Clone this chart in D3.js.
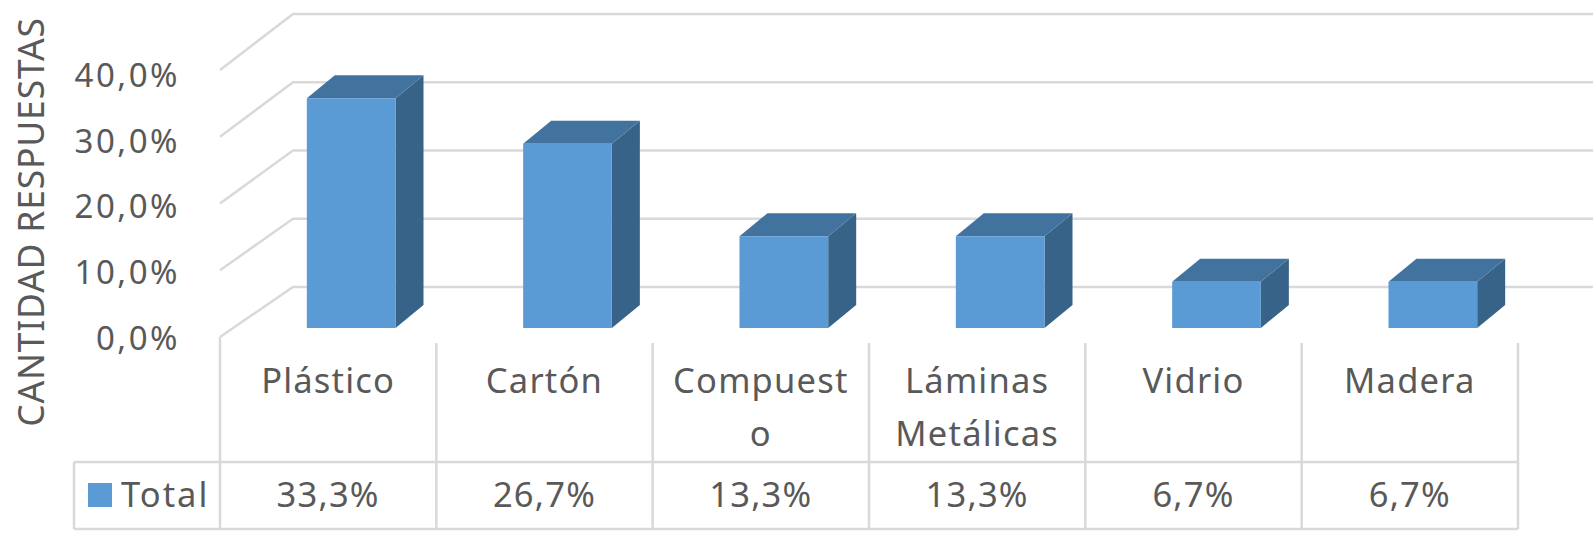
<!DOCTYPE html>
<html><head><meta charset="utf-8">
<script src="https://cdn.jsdelivr.net/npm/d3@7"></script>
<style>body{margin:0;background:#fff}svg{display:block}text{font-family:"Noto Sans",sans-serif;fill:#595959}</style>
</head><body><svg id="c" width="1593" height="533"></svg>
<script>
const categories = ["Plástico","Cartón","Compuesto","Láminas Metálicas","Vidrio","Madera"];
const categoryLines = [["Plástico"],["Cartón"],["Compuest","o"],["Láminas","Metálicas"],["Vidrio"],["Madera"]];
const values = [0.333,0.267,0.133,0.133,0.067,0.067];
const valueLabels = ["33,3%","26,7%","13,3%","13,3%","6,7%","6,7%"];
const ticks = [0,0.1,0.2,0.3,0.4];
const tickLabels = ["0,0%","10,0%","20,0%","30,0%","40,0%"];
const seriesName = "Total";
const axisTitle = "CANTIDAD RESPUESTAS";

const svg = d3.select("#c");
const W = 1593;
const grid = "#d9d9d9";
const x = d3.scaleBand().domain(categories).range([220,1518]).paddingInner(0).paddingOuter(0);
const yFront = d3.scaleLinear().domain([0,0.4]).range([337,70]);
const yLabel = d3.scaleLinear().domain([0,0.4]).range([338,75]);
const yBack = d3.scaleLinear().domain([0,0.4]).range([287,14]);
const yBar = d3.scaleLinear().domain([0,0.4]).range([328,52]);
const backX = 293, frontX = 220;
const depthX = 28, depthY = -23;

// gridlines: side wall diagonal + back wall
const g = svg.append("g");
ticks.forEach(t=>{
  g.append("path").attr("d",`M${frontX},${yFront(t)}L${backX},${yBack(t)}L${W},${yBack(t)}`)
   .attr("fill","none").attr("stroke",grid).attr("stroke-width",2.5);
});

// bars
const bw = x.bandwidth()*0.41;
const bOff = x.bandwidth()*0.5+23-bw/2;
const bars = svg.append("g");
categories.forEach((c,i)=>{
  const x0 = x(c)+bOff, x1 = x0+bw, yT = yBar(values[i]), yB = yBar(0);
  bars.append("path").attr("d",`M${x1},${yB}L${x1+depthX},${yB+depthY}L${x1+depthX},${yT+depthY}L${x1},${yT}Z`).attr("fill","#386388");
  bars.append("path").attr("d",`M${x0},${yT}L${x0+depthX},${yT+depthY}L${x1+depthX},${yT+depthY}L${x1},${yT}Z`).attr("fill","#42739f");
  bars.append("rect").attr("x",x0).attr("y",yT).attr("width",bw).attr("height",yB-yT).attr("fill","#5b9bd5");
});

// y tick labels
svg.append("g").selectAll("text").data(ticks).join("text")
  .attr("x",180).attr("y",d=>yLabel(d)).attr("dy","0.36em").attr("text-anchor","end")
  .attr("font-size",33).attr("letter-spacing",2.5).text((d,i)=>tickLabels[i]);

// axis title
svg.append("text").attr("transform","translate(44,222) rotate(-90)").attr("text-anchor","middle")
  .attr("font-size",35.5).attr("letter-spacing",0.8).text(axisTitle);

// table
const tTop = 462, tBot = 529, tLeft = 74, colTop = 343;
const tg = svg.append("g").attr("stroke",grid).attr("stroke-width",2.5);
tg.append("line").attr("x1",tLeft).attr("x2",x.range()[1]).attr("y1",tTop).attr("y2",tTop);
tg.append("line").attr("x1",tLeft).attr("x2",x.range()[1]).attr("y1",tBot).attr("y2",tBot);
tg.append("line").attr("x1",tLeft).attr("x2",tLeft).attr("y1",tTop).attr("y2",tBot);
tg.append("line").attr("x1",frontX).attr("x2",frontX).attr("y1",yFront(0)).attr("y2",tBot);
categories.forEach(c=>{
  const xr = x(c)+x.bandwidth();
  tg.append("line").attr("x1",xr).attr("x2",xr).attr("y1",colTop).attr("y2",tBot);
});

// category labels
categories.forEach((c,i)=>{
  const cx = x(c)+x.bandwidth()/2;
  const t = svg.append("text").attr("x",cx).attr("y",393).attr("text-anchor","middle").attr("font-size",34.5).attr("letter-spacing",1.2);
  categoryLines[i].forEach((ln,j)=>t.append("tspan").attr("x",cx).attr("y",393+j*53).text(ln));
  svg.append("text").attr("x",cx).attr("y",507).attr("text-anchor","middle").attr("font-size",34.5).attr("letter-spacing",1.2).text(valueLabels[i]);
});

// legend key
svg.append("rect").attr("x",88).attr("y",483).attr("width",24).attr("height",24).attr("fill","#5b9bd5");
svg.append("text").attr("x",121).attr("y",507).attr("font-size",34.5).attr("letter-spacing",2).text(seriesName);
</script></body></html>
